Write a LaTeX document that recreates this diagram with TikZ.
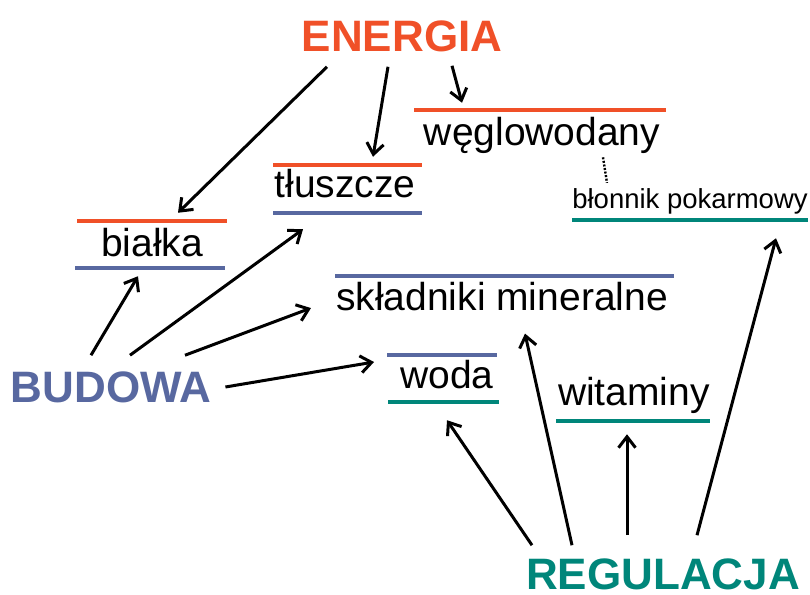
\documentclass[tikz,border=0pt]{standalone}
\usepackage{fontspec}
\setmainfont{Liberation Sans}
\usetikzlibrary{arrows.meta}
\definecolor{energ}{RGB}{240,80,40}
\definecolor{budow}{RGB}{88,104,160}
\definecolor{regul}{RGB}{0,134,122}

\begin{document}
\begin{tikzpicture}[x=1pt, y=-1pt,
  head/.style={font=\bfseries\fontsize{44}{44}\selectfont, inner sep=0pt},
  item/.style={font=\fontsize{39}{40}\selectfont, inner sep=0pt, anchor=base},
  bar/.style={minimum height=4.5pt, inner sep=0pt, outer sep=0pt},
  arr/.style={-{Straight Barb[length=11pt,width=17pt]}, line width=3pt},
]
  \useasboundingbox (0,0) rectangle (810,594);

  % headings
  \node[head, text=energ] (energia) at (402,36) {ENERGIA};
  \node[head, text=budow] (budowa) at (111,387) {BUDOWA};
  \node[head, text=regul] (regulacja) at (663,574) {REGULACJA};

  % nutrients
  \node[item] (bialka) at (152,256) {białka};
  \node[item] (tluszcze) at (345,197) {tłuszcze};
  \node[item] (wegle) at (542,145) {węglowodany};
  \node[item, font=\fontsize{27.5}{28}\selectfont] (blonnik) at (690,208) {błonnik pokarmowy};
  \node[item] (mineral) at (502,310) {składniki mineralne};
  \node[item] (woda) at (447,388) {woda};
  \node[item] (witaminy) at (634,405) {witaminy};

  % coloured bars above / below
  \node[bar, fill=energ, minimum width=150pt] (bialka-t) at (152,221) {};
  \node[bar, fill=budow, minimum width=150pt] (bialka-b) at (150,268) {};
  \node[bar, fill=energ, minimum width=149pt] (tluszcze-t) at (347.5,165) {};
  \node[bar, fill=budow, minimum width=149pt] (tluszcze-b) at (347.5,213) {};
  \node[bar, fill=energ, minimum width=252pt] (wegle-t) at (540,110) {};
  \node[bar, fill=regul, minimum width=236pt] (blonnik-b) at (690,220) {};
  \node[bar, fill=budow, minimum width=339pt] (mineral-t) at (504.5,276) {};
  \node[bar, fill=budow, minimum width=110pt] (woda-t) at (442,355) {};
  \node[bar, fill=regul, minimum width=111pt] (woda-b) at (443.5,402) {};
  \node[bar, fill=regul, minimum width=154pt] (witaminy-b) at (633,421) {};

  % from ENERGIA
  \draw[arr] ([shift={(-75,15)}]energia.south) -- ([shift={(26,-6)}]bialka-t.north);
  \draw[arr] ([shift={(-14,15)}]energia.south) -- ([shift={(25.5,-6)}]tluszcze-t.north);
  \draw[arr] ([shift={(50,14)}]energia.south) -- ([shift={(-78,-5)}]wegle-t.north);

  % from BUDOWA
  \draw[arr] ([shift={(-20,-16)}]budowa.north) -- ([shift={(-12,6)}]bialka-b.south);
  \draw[arr] ([shift={(19,-16)}]budowa.north) -- ([shift={(-44.5,14)}]tluszcze-b.south);
  \draw[arr] ([shift={(74,-16)}]budowa.north) -- ([shift={(-25,12)}]mineral.west);
  \draw[arr] ([shift={(14,0)}]budowa.east) -- ([shift={(-13,7)}]woda-t.west);

  % from REGULACJA
  \draw[arr] ([shift={(-131,-13)}]regulacja.north) -- ([shift={(3.5,16)}]woda-b.south);
  \draw[arr] ([shift={(-91,-13)}]regulacja.north) -- ([shift={(23,23)}]mineral.south);
  \draw[arr] ([shift={(-36,-23)}]regulacja.north) -- ([shift={(-6,11)}]witaminy-b.south);
  \draw[arr] ([shift={(34,-23)}]regulacja.north) -- ([shift={(86,16)}]blonnik-b.south);

  % fibre belongs to carbohydrates
  \draw[line width=2.4pt, dash pattern=on 2pt off 1.6pt]
    ([shift={(61,4)}]wegle.south) -- ([shift={(-83,-5)}]blonnik.north);
\end{tikzpicture}
\end{document}
